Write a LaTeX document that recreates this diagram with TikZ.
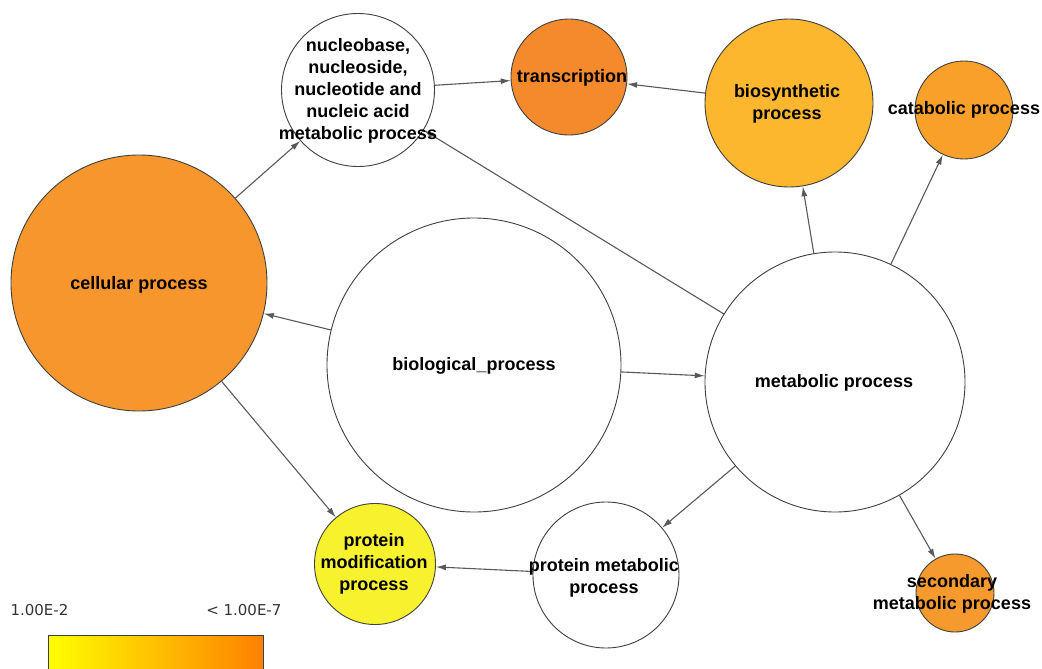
\documentclass[tikz,border=0pt]{standalone}
\usepackage{fontspec}
\setmainfont{Liberation Sans}
\newfontfamily\legendfont{DejaVu Sans}
\usetikzlibrary{arrows.meta, positioning}
\definecolor{cellorange}{RGB}{247,150,45}
\definecolor{transorange}{RGB}{244,138,44}
\definecolor{biosynorange}{RGB}{253,183,46}
\definecolor{cataorange}{RGB}{249,160,42}
\definecolor{secorange}{RGB}{247,154,46}
\definecolor{protyellow}{RGB}{247,242,45}
\definecolor{scaleorange}{RGB}{255,128,0}
\pgfdeclarelayer{edges}
\pgfsetlayers{edges,main}

\begin{document}
\begin{tikzpicture}[x=1pt, y=-1pt,
    term/.style={circle, draw=black!75, line width=0.9pt, inner sep=0pt, fill=white},
    termtext/.style={font=\fontsize{18}{22}\selectfont\bfseries, align=center, text=black},
    link/.style={-{Latex[length=10pt,width=6pt]}, draw=black!65, line width=1.1pt}]

    \useasboundingbox (0,0) rectangle (1042,669);

    % GO terms
    \node[term, fill=cellorange, minimum size=256] (cell) at (139,283) {};
    \node[term, minimum size=294] (bio) at (474,365) {};
    \node[term, minimum size=260] (meta) at (835,382) {};
    \node[term, minimum size=153] (nucl) at (358,90) {};
    \node[term, fill=transorange, minimum size=116] (trans) at (569,77) {};
    \node[term, fill=biosynorange, minimum size=168] (biosyn) at (789,103) {};
    \node[term, fill=cataorange, minimum size=98] (cata) at (964,110) {};
    \node[term, fill=protyellow, minimum size=121] (protmod) at (375,564) {};
    \node[term, minimum size=146] (protmeta) at (606,575) {};
    \node[term, fill=secorange, minimum size=78] (sec) at (955,593) {};

    % Term names
    \node[termtext] (cell-txt) at (139,285) {cellular process};
    \node[termtext] (bio-txt) at (474,366) {biological\_process};
    \node[termtext] (meta-txt) at (834,383) {metabolic process};
    \node[termtext] (nucl-txt) at (358,91) {nucleobase,\\nucleoside,\\nucleotide and\\nucleic acid\\metabolic process};
    \node[termtext] (trans-txt) at (572,78) {transcription};
    \node[termtext] (biosyn-txt) at (787,104) {biosynthetic\\process};
    \node[termtext] (cata-txt) at (964,110) {catabolic process};
    \node[termtext] (protmod-txt) at (374,564) {protein\\modification\\process};
    \node[termtext] (protmeta-txt) at (604,578) {protein metabolic\\process};
    \node[termtext] (sec-txt) at (952,594) {secondary\\metabolic process};

    % Parent -> child links
    \begin{pgfonlayer}{edges}
        \draw[link] (bio) -- (cell);
        \draw[link] (bio) -- (meta);
        \draw[link] (cell) -- (nucl);
        \draw[link] (cell) -- (protmod);
        \draw[link] (nucl) -- (trans);
        \draw[link] (biosyn) -- (trans);
        \draw[link] (meta) -- (nucl);
        \draw[link] (meta) -- (biosyn);
        \draw[link] (meta) -- (cata);
        \draw[link] (meta) -- (protmeta);
        \draw[link] (meta) -- (sec);
        \draw[link] (protmeta) -- (protmod);
    \end{pgfonlayer}

    % Colour scale
    \node[font=\legendfont\fontsize{15}{18}\selectfont, text=black!80, anchor=west] (scale-lo) at (7,610) {1.00E-2};
    \node[font=\legendfont\fontsize{15}{18}\selectfont, text=black!80, anchor=east] (scale-hi) at (285,610) {< 1.00E-7};
    \draw[draw=black!75, line width=1pt, left color=yellow, right color=scaleorange] (48,635) rectangle (263,700);
\end{tikzpicture}
\end{document}
